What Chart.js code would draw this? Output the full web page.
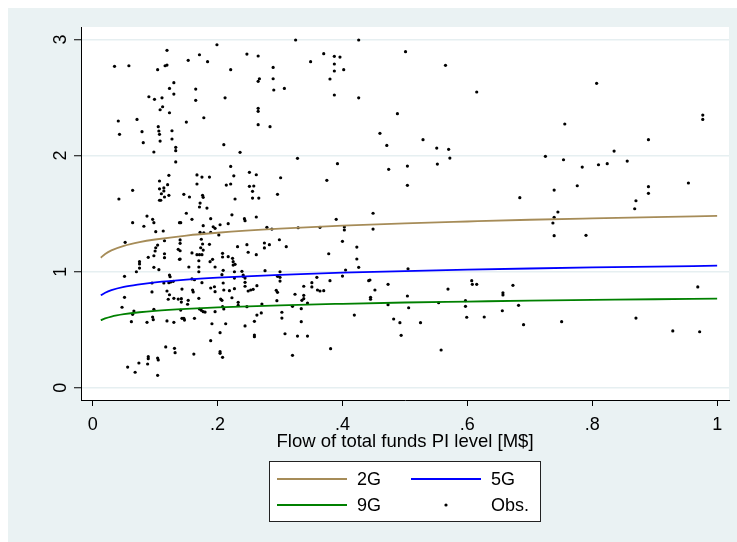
<!DOCTYPE html>
<html>
<head>
<meta charset="utf-8">
<script src="https://cdn.jsdelivr.net/npm/chart.js@4.4.1/dist/chart.umd.min.js"></script>
<style>
  html, body { margin: 0; padding: 0; background: #fff; }
  canvas { display: block; }
</style>
</head>
<body>
<canvas id="chart" width="737" height="542"></canvas>
<script>
// observations (flow of funds, outcome)
const obsX = [
  0.119,0.035,0.058,0.104,0.116,0.119,0.130,0.123,0.130,0.090,0.099,0.111,0.112,0.108,0.123,0.041,0.071,0.105,0.127,0.043,
  0.079,0.106,0.107,0.127,0.081,0.108,0.133,0.133,0.098,0.133,0.122,0.107,0.120,0.064,0.107,0.114,0.114,0.110,0.115,0.122,
  0.042,0.107,0.109,0.087,0.199,0.171,0.153,0.184,0.247,0.265,0.289,0.221,0.267,0.265,0.289,0.165,0.290,0.165,0.212,0.265,
  0.265,0.178,0.150,0.265,0.284,0.210,0.236,0.221,0.167,0.175,0.187,0.226,0.251,0.262,0.167,0.214,0.221,0.251,0.258,0.256,
  0.146,0.155,0.176,0.177,0.228,0.256,0.266,0.172,0.171,0.183,0.150,0.223,0.262,0.325,0.426,0.370,0.387,0.396,0.349,0.387,
  0.387,0.402,0.380,0.307,0.387,0.426,0.328,0.392,0.301,0.375,0.296,0.449,0.096,0.098,0.064,0.082,0.101,0.113,0.139,0.052,
  0.115,0.104,0.101,0.100,0.137,0.115,0.115,0.098,0.089,0.139,0.075,0.075,0.075,0.070,0.098,0.106,0.051,0.123,0.124,0.095,
  0.114,0.122,0.125,0.129,0.119,0.095,0.051,0.123,0.121,0.130,0.137,0.047,0.066,0.064,0.098,0.096,0.097,0.062,0.087,0.119,
  0.130,0.117,0.131,0.132,0.089,0.089,0.074,0.088,0.104,0.105,0.056,0.068,0.104,0.141,0.159,0.189,0.243,0.244,0.177,0.193,
  0.196,0.204,0.217,0.172,0.178,0.189,0.202,0.279,0.287,0.140,0.140,0.174,0.176,0.187,0.140,0.173,0.177,0.232,0.247,0.275,
  0.283,0.275,0.159,0.167,0.171,0.175,0.208,0.208,0.217,0.224,0.249,0.262,0.140,0.170,0.192,0.188,0.225,0.225,0.228,0.154,
  0.170,0.170,0.196,0.209,0.207,0.227,0.239,0.241,0.241,0.276,0.227,0.244,0.244,0.159,0.163,0.175,0.209,0.143,0.160,0.161,
  0.189,0.195,0.210,0.219,0.227,0.249,0.253,0.257,0.263,0.244,0.196,0.205,0.207,0.223,0.142,0.142,0.153,0.152,0.170,0.233,
  0.233,0.271,0.141,0.171,0.174,0.177,0.180,0.196,0.208,0.210,0.247,0.270,0.143,0.146,0.147,0.163,0.259,0.191,0.213,0.244,
  0.263,0.204,0.259,0.259,0.189,0.162,0.204,0.204,0.208,0.329,0.364,0.390,0.403,0.403,0.449,0.299,0.310,0.400,0.378,0.423,
  0.423,0.426,0.300,0.296,0.300,0.300,0.405,0.400,0.359,0.380,0.351,0.351,0.338,0.442,0.294,0.296,0.360,0.364,0.370,0.324,
  0.338,0.338,0.335,0.344,0.295,0.320,0.334,0.445,0.445,0.303,0.303,0.334,0.419,0.308,0.328,0.344,0.381,0.320,0.452,0.501,
  0.565,0.615,0.807,0.488,0.460,0.471,0.529,0.551,0.570,0.572,0.552,0.504,0.474,0.756,0.725,0.754,0.784,0.810,0.824,0.835,
  0.856,0.890,0.977,0.977,0.504,0.739,0.776,0.954,0.890,0.890,0.870,0.868,0.684,0.745,0.739,0.737,0.739,0.790,0.505,0.444,
  0.473,0.473,0.504,0.506,0.482,0.492,0.494,0.525,0.569,0.554,0.558,0.607,0.608,0.615,0.597,0.597,0.599,0.627,0.657,0.657,
  0.673,0.656,0.682,0.690,0.751,0.870,0.929,0.969,0.972
];
const obsY = [
  2.907,2.769,2.774,2.740,2.774,2.780,2.628,2.579,2.530,2.507,2.485,2.498,2.421,2.395,2.369,2.298,2.312,2.249,2.214,2.183,
  2.206,2.212,2.183,2.143,2.111,2.125,2.071,2.042,2.031,1.945,1.830,1.781,1.749,1.701,1.714,1.721,1.695,1.671,1.643,1.658,
  1.626,1.615,1.615,1.479,2.955,2.869,2.821,2.809,2.875,2.858,2.760,2.740,2.662,2.640,2.662,2.573,2.565,2.476,2.498,2.407,
  2.381,2.326,2.289,2.266,2.249,2.094,2.028,1.907,1.833,1.815,1.815,1.826,1.856,1.835,1.755,1.746,1.755,1.735,1.738,1.692,
  1.666,1.643,1.658,1.640,1.626,1.634,1.634,1.591,1.557,1.548,1.503,1.490,1.471,2.996,2.996,2.878,2.855,2.849,2.809,2.789,
  2.729,2.740,2.660,2.579,2.522,2.498,1.976,1.930,1.809,1.787,1.666,1.503,1.451,1.422,1.422,1.391,1.344,1.350,1.422,1.253,
  1.266,1.229,1.206,1.178,1.192,1.154,1.120,1.137,1.123,1.106,1.086,1.066,1.031,0.999,1.037,1.017,0.960,0.971,0.956,0.902,
  0.902,0.905,0.911,0.917,0.833,0.825,0.779,0.801,0.762,0.770,0.764,0.693,0.661,0.632,0.675,0.609,0.586,0.569,0.563,0.575,
  0.563,0.351,0.339,0.302,0.267,0.250,0.213,0.204,0.256,0.239,0.178,0.133,0.107,1.422,1.451,1.456,1.456,1.439,1.396,1.387,
  1.373,1.404,1.413,1.339,1.335,1.339,1.316,1.382,1.367,1.273,1.244,1.279,1.238,1.235,1.180,1.206,1.186,1.215,1.232,1.247,
  1.232,1.204,1.161,1.146,1.146,1.146,1.158,1.126,1.129,1.115,1.167,1.146,1.109,1.094,1.106,1.086,1.086,1.057,1.063,1.040,
  1.040,0.999,1.040,1.011,0.974,0.999,1.003,0.971,0.960,1.008,0.945,0.945,0.908,0.937,0.930,0.905,0.902,0.850,0.842,0.825,
  0.859,0.870,0.842,0.836,0.853,0.833,0.842,0.848,0.879,0.874,0.827,0.764,0.753,0.775,0.767,0.738,0.753,0.719,0.770,0.736,
  0.710,0.721,0.669,0.678,0.667,0.655,0.652,0.655,0.698,0.678,0.698,0.644,0.598,0.598,0.583,0.598,0.572,0.551,0.551,0.532,
  0.626,0.474,0.454,0.439,0.405,0.290,0.310,0.296,0.262,1.378,1.382,1.451,1.385,1.359,1.367,1.275,1.215,1.261,1.154,1.212,
  1.109,1.037,0.999,0.960,0.951,0.919,1.014,0.962,0.951,0.922,0.905,0.868,0.874,0.922,0.839,0.822,0.842,0.833,0.836,0.805,
  0.796,0.767,0.753,0.730,0.750,0.701,0.681,0.779,0.762,0.650,0.600,0.569,0.626,0.465,0.445,0.445,0.336,0.279,0.842,2.895,
  2.778,2.548,2.623,2.361,2.192,2.088,2.137,2.065,2.054,1.979,1.927,1.910,1.882,2.272,1.994,1.964,1.901,1.921,1.930,2.039,
  1.953,2.137,2.349,2.312,1.744,1.703,1.740,1.764,1.732,1.675,1.611,1.542,1.637,1.514,1.468,1.419,1.310,1.313,1.025,0.928,
  0.891,0.715,0.790,0.689,0.592,0.560,0.451,0.560,0.850,0.732,0.325,0.922,0.891,0.891,0.750,0.701,0.607,0.609,0.818,0.799,
  0.882,0.663,0.710,0.543,0.569,0.600,0.489,0.868,0.482
];

// fitted curves
const fitX  = [0.013,0.02,0.03,0.05,0.075,0.1,0.15,0.2,0.3,0.4,0.5,0.6,0.7,0.8,0.9,1.0];
const fit2G = [1.120,1.152,1.183,1.222,1.254,1.277,1.311,1.335,1.370,1.396,1.416,1.432,1.447,1.459,1.470,1.480];
const fit5G = [0.796,0.818,0.840,0.868,0.890,0.907,0.931,0.948,0.973,0.991,1.005,1.017,1.027,1.036,1.044,1.051];
const fit9G = [0.581,0.597,0.613,0.633,0.650,0.662,0.679,0.692,0.710,0.723,0.734,0.742,0.750,0.756,0.762,0.767];

const xTicks = [0, 0.2, 0.4, 0.6, 0.8, 1];
const xTickLabels = ['0', '.2', '.4', '.6', '.8', '1'];
const yTicks = [0, 1, 2, 3];
const yTickLabels = ['0', '1', '2', '3'];
const xTitle = 'Flow of total funds PI level [M$]';

const BG = '#EAF2F3';
const FONT = '"Liberation Sans", Arial, sans-serif';
const colors = { g2: '#A68C58', g5: '#0000FF', g9: '#008000', obs: '#000000' };

function toXY(xs, ys) {
  return xs.map((x, i) => ({ x: x, y: ys[i] }));
}

function lineSet(label, ys, color) {
  return {
    label: label,
    data: toXY(fitX, ys),
    showLine: true,
    borderColor: color,
    borderWidth: 1.8,
    pointRadius: 0,
    tension: 0.4,
    cubicInterpolationMode: 'monotone',
    fill: false
  };
}

// background, axis labels, title and boxed legend, Stata style
const stataFrame = {
  id: 'stataFrame',
  beforeDraw(chart) {
    const ctx = chart.ctx;
    const a = chart.chartArea;
    ctx.save();
    ctx.fillStyle = '#fff';
    ctx.fillRect(0, 0, chart.width, chart.height);
    ctx.fillStyle = BG;
    ctx.fillRect(8, 8, chart.width - 8, chart.height - 8);
    ctx.fillStyle = '#fff';
    ctx.fillRect(a.left, a.top, a.right - a.left, a.bottom - a.top);
    ctx.restore();
  },
  afterDraw(chart) {
    const ctx = chart.ctx;
    const xs = chart.scales.x;
    const ys = chart.scales.y;
    const a = chart.chartArea;
    ctx.save();
    ctx.fillStyle = '#000';
    ctx.font = '18px ' + FONT;

    // x tick labels
    ctx.textAlign = 'center';
    ctx.textBaseline = 'alphabetic';
    xTicks.forEach((v, i) => {
      ctx.fillText(xTickLabels[i], xs.getPixelForValue(v), 429.5);
    });

    // y tick labels, rotated
    yTicks.forEach((v, i) => {
      ctx.save();
      ctx.translate(66, ys.getPixelForValue(v));
      ctx.rotate(-Math.PI / 2);
      ctx.textAlign = 'center';
      ctx.textBaseline = 'alphabetic';
      ctx.fillText(yTickLabels[i], 0, 0);
      ctx.restore();
    });

    // x title
    ctx.font = '18.5px ' + FONT;
    ctx.textAlign = 'center';
    ctx.fillText(xTitle, (a.left + a.right) / 2, 447);

    // legend box
    const lx = 269, ly = 461, lw = 272, lh = 61;
    ctx.fillStyle = '#fff';
    ctx.fillRect(lx, ly, lw, lh);
    ctx.strokeStyle = '#222';
    ctx.lineWidth = 1;
    ctx.strokeRect(lx + 0.5, ly + 0.5, lw - 1, lh - 1);

    const ds = chart.data.datasets;
    const slots = [
      { ds: ds[0], x: 277, y: 479 },
      { ds: ds[1], x: 411, y: 479 },
      { ds: ds[2], x: 277, y: 505 },
      { ds: ds[3], x: 411, y: 505 }
    ];
    ctx.font = '18px ' + FONT;
    ctx.textAlign = 'left';
    ctx.textBaseline = 'middle';
    slots.forEach(s => {
      if (s.ds.showLine) {
        ctx.strokeStyle = s.ds.borderColor;
        ctx.lineWidth = 1.8;
        ctx.beginPath();
        ctx.moveTo(s.x, s.y);
        ctx.lineTo(s.x + 70, s.y);
        ctx.stroke();
      } else {
        ctx.fillStyle = s.ds.backgroundColor;
        ctx.beginPath();
        ctx.arc(s.x + 35, s.y, 1.6, 0, Math.PI * 2);
        ctx.fill();
      }
      ctx.fillStyle = '#000';
      ctx.fillText(s.ds.label, s.x + 80, s.y + 1);
    });
    ctx.restore();
  }
};

new Chart(document.getElementById('chart'), {
  type: 'scatter',
  data: {
    datasets: [
      lineSet('2G', fit2G, colors.g2),
      lineSet('5G', fit5G, colors.g5),
      lineSet('9G', fit9G, colors.g9),
      {
        label: 'Obs.',
        data: toXY(obsX, obsY),
        pointRadius: 1.6,
        pointBackgroundColor: colors.obs,
        backgroundColor: colors.obs,
        pointBorderWidth: 0,
        showLine: false
      }
    ]
  },
  options: {
    responsive: false,
    animation: false,
    devicePixelRatio: 1,
    layout: { padding: { top: 27, right: 8, left: 0, bottom: 0 } },
    plugins: {
      legend: { display: false },
      tooltip: { enabled: false }
    },
    scales: {
      x: {
        type: 'linear',
        min: -0.0187,
        max: 1.019,
        afterBuildTicks: s => { s.ticks = xTicks.map(v => ({ value: v })); },
        afterFit: s => { s.height = 142; },
        ticks: { display: false },
        grid: { drawOnChartArea: false, drawTicks: true, tickLength: 6, tickColor: '#000', tickWidth: 1 },
        border: { display: true, color: '#000', width: 1 }
      },
      y: {
        type: 'linear',
        min: -0.106,
        max: 3.108,
        afterBuildTicks: s => { s.ticks = yTicks.map(v => ({ value: v })); },
        afterFit: s => { s.width = 81; },
        ticks: { display: false },
        grid: { color: '#E6EFF1', lineWidth: 1.5, drawTicks: true, tickLength: 7, tickColor: '#000', tickWidth: 1 },
        border: { display: true, color: '#000', width: 1 }
      }
    }
  },
  plugins: [stataFrame]
});
</script>
</body>
</html>
